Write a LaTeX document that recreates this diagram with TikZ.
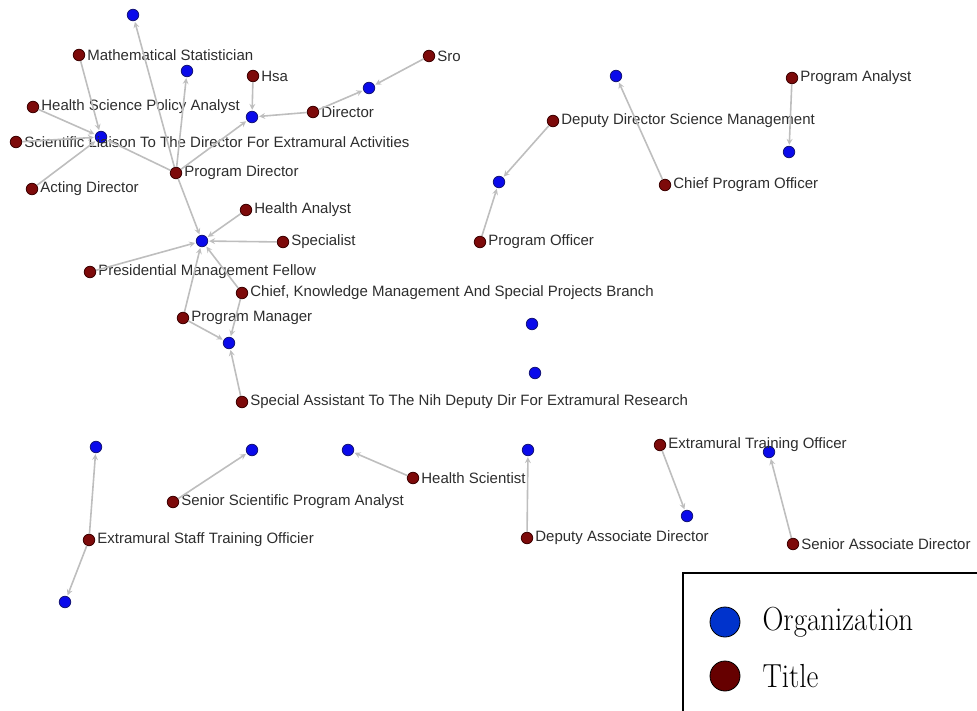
\documentclass[tikz,border=0pt]{standalone}
\usepackage{fontspec}
\setsansfont{Liberation Sans}
\definecolor{orgblue}{RGB}{10,10,235}
\definecolor{orgedge}{RGB}{20,20,120}
\definecolor{ttlred}{RGB}{125,10,10}
\definecolor{ttledge}{RGB}{60,0,0}
\definecolor{linkgray}{RGB}{190,190,190}
\definecolor{lblgray}{RGB}{45,45,45}
\definecolor{legblue}{RGB}{0,51,204}
\definecolor{legred}{RGB}{102,0,0}
\begin{document}
\begin{tikzpicture}[x=1pt,y=-1pt,
  org/.style={circle,fill=orgblue,draw=orgedge,line width=0.8pt,minimum size=11.5pt,inner sep=0pt},
  ttl/.style={circle,fill=ttlred,draw=ttledge,line width=0.8pt,minimum size=11.5pt,inner sep=0pt},
  lbl/.style={font=\sffamily\fontsize{15}{17}\selectfont,text=lblgray,inner sep=0pt,label distance=2pt},
  link/.style={draw=linkgray,line width=1.6pt,-stealth,shorten >=1pt}]
\useasboundingbox (0,0) rectangle (977,711);
\clip (0,0) rectangle (977,711);
\node[org] (o1) at (133,15) {};
\node[org] (o2) at (187,71) {};
\node[org] (o3) at (252,117) {};
\node[org] (o4) at (369,88) {};
\node[org] (o5) at (101,137) {};
\node[org] (o6) at (202,241) {};
\node[org] (o7) at (229,343) {};
\node[org] (o8) at (616,76) {};
\node[org] (o9) at (789,152) {};
\node[org] (o10) at (499,182) {};
\node[org] (o11) at (532,324) {};
\node[org] (o12) at (535,373) {};
\node[org] (o13) at (96,447) {};
\node[org] (o14) at (252,450) {};
\node[org] (o15) at (348,450) {};
\node[org] (o16) at (528,450) {};
\node[org] (o17) at (687,516) {};
\node[org] (o18) at (769,452) {};
\node[org] (o19) at (65,602) {};
\node[ttl,label={[lbl]right:Mathematical Statistician}] (mathstat) at (79,55) {};
\node[ttl,label={[lbl]right:Hsa}] (hsa) at (253,76) {};
\node[ttl,label={[lbl]right:Sro}] (sro) at (429,56) {};
\node[ttl,label={[lbl]right:Health Science Policy Analyst}] (hspa) at (33,107) {};
\node[ttl,label={[lbl]right:Director}] (director) at (313,112) {};
\node[ttl,label={[lbl]right:Scientific Liaison To The Director For Extramural Activities}] (liaison) at (16,142) {};
\node[ttl,label={[lbl]right:Program Director}] (progdir) at (176,173) {};
\node[ttl,label={[lbl]right:Acting Director}] (actdir) at (32,189) {};
\node[ttl,label={[lbl]right:Health Analyst}] (hanalyst) at (246,210) {};
\node[ttl,label={[lbl]right:Specialist}] (specialist) at (283,242) {};
\node[ttl,label={[lbl]right:Presidential Management Fellow}] (pmf) at (90,272) {};
\node[ttl,label={[lbl]right:{Chief, Knowledge Management And Special Projects Branch}}] (chiefkm) at (242,293) {};
\node[ttl,label={[lbl]right:Program Manager}] (progman) at (183,318) {};
\node[ttl,label={[lbl]right:Special Assistant To The Nih Deputy Dir For Extramural Research}] (specasst) at (242,402) {};
\node[ttl,label={[lbl]right:Deputy Director Science Management}] (ddsm) at (553,121) {};
\node[ttl,label={[lbl]right:Program Analyst}] (proganalyst) at (792,78) {};
\node[ttl,label={[lbl]right:Chief Program Officer}] (chiefpo) at (665,185) {};
\node[ttl,label={[lbl]right:Program Officer}] (progoff) at (480,242) {};
\node[ttl,label={[lbl]right:Senior Scientific Program Analyst}] (sspa) at (173,502) {};
\node[ttl,label={[lbl]right:Health Scientist}] (hscientist) at (413,478) {};
\node[ttl,label={[lbl]right:Extramural Staff Training Officier}] (esto) at (89,540) {};
\node[ttl,label={[lbl]right:Deputy Associate Director}] (dad) at (527,538) {};
\node[ttl,label={[lbl]right:Extramural Training Officer}] (eto) at (660,445) {};
\node[ttl,label={[lbl]right:Senior Associate Director}] (sad) at (793,544) {};
\foreach \a/\b in {mathstat/o5,hspa/o5,liaison/o5,actdir/o5,progdir/o5,progdir/o1,progdir/o2,progdir/o3,
  progdir/o6,hsa/o3,director/o3,director/o4,sro/o4,hanalyst/o6,specialist/o6,pmf/o6,chiefkm/o6,
  progman/o6,chiefkm/o7,progman/o7,specasst/o7,ddsm/o10,progoff/o10,chiefpo/o8,proganalyst/o9,
  esto/o13,esto/o19,sspa/o14,hscientist/o15,dad/o16,eto/o17,sad/o18}
  \draw[link] (\a) -- (\b);
\draw[line width=2pt] (683,573) rectangle (1000,730);
\node[circle,fill=legblue,draw=black,line width=0.8pt,minimum size=30pt] (legorg) at (725,622) {};
\node[circle,fill=legred,draw=black,line width=0.8pt,minimum size=30pt] (legttl) at (725,676) {};
\node[anchor=west,font=\fontsize{29}{31}\selectfont,yscale=1.15,transform shape,inner sep=0pt] (legorgtxt) at ([xshift=22pt]legorg.east) {Organization};
\node[anchor=west,font=\fontsize{29}{31}\selectfont,yscale=1.15,transform shape,inner sep=0pt] (legttltxt) at ([xshift=22pt]legttl.east) {Title};
\end{tikzpicture}
\end{document}
